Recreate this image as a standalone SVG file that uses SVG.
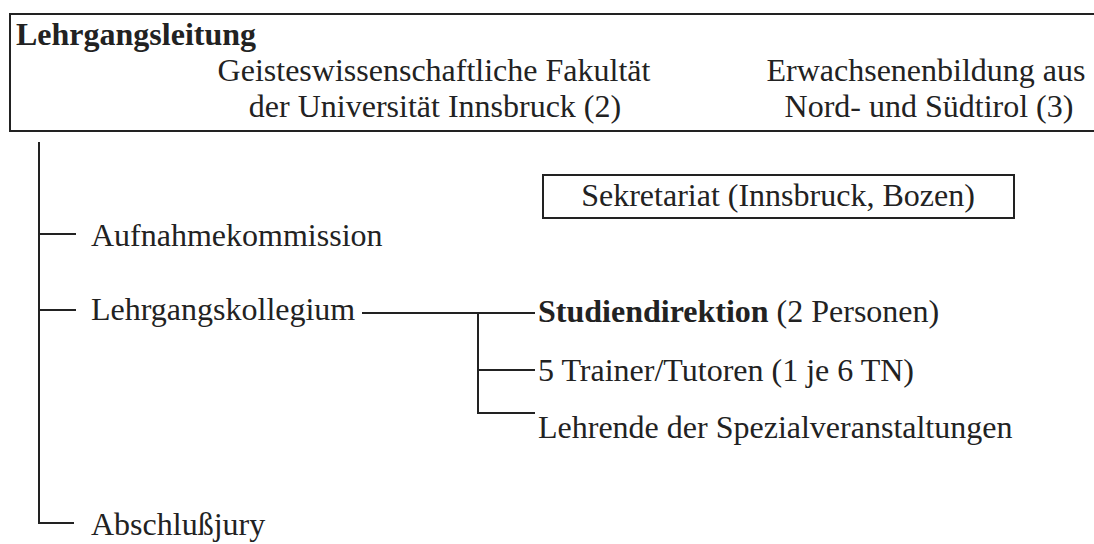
<svg xmlns="http://www.w3.org/2000/svg" width="1094" height="544" viewBox="0 0 1094 544">
<style>
text{font-family:"Liberation Serif","Times New Roman",serif;font-size:32px;fill:#222}
.b{font-weight:bold}
.m{text-anchor:middle}
.ln{stroke:#222;stroke-width:2;fill:none}
</style>
<rect width="1094" height="544" fill="#fff"/>
<g id="lehrgangsleitung">
<path class="ln" d="M1094,14 H10 V131 H1094"/>
<text class="b" x="16" y="45">Lehrgangsleitung</text>
<text class="m" x="434" y="81">Geisteswissenschaftliche Fakultät</text>
<text class="m" x="435" y="117">der Universität Innsbruck (2)</text>
<text class="m" x="926" y="81">Erwachsenenbildung aus</text>
<text class="m" x="929" y="117">Nord- und Südtirol (3)</text>
</g>
<g id="sekretariat">
<rect class="ln" x="543" y="175" width="471" height="43"/>
<text class="m" x="778" y="206">Sekretariat (Innsbruck, Bozen)</text>
</g>
<g id="aufnahmekommission"><text x="91" y="246">Aufnahmekommission</text></g>
<g id="lehrgangskollegium"><text x="91" y="320">Lehrgangskollegium</text></g>
<g id="studiendirektion"><text x="538" y="322"><tspan class="b">Studiendirektion</tspan> (2 Personen)</text></g>
<g id="trainer"><text x="538" y="381">5 Trainer/Tutoren (1 je 6 TN)</text></g>
<g id="lehrende"><text x="538" y="438">Lehrende der Spezialveranstaltungen</text></g>
<g id="abschlussjury"><text x="91" y="535">Abschlußjury</text></g>
<g id="connectors">
<path class="ln" d="M39,142 V523 H74"/>
<path class="ln" d="M39,234 H76"/>
<path class="ln" d="M39,310 H76"/>
<path class="ln" d="M362,313 H535"/>
<path class="ln" d="M478,313 V413 H535"/>
<path class="ln" d="M478,370 H535"/>
</g>
</svg>
